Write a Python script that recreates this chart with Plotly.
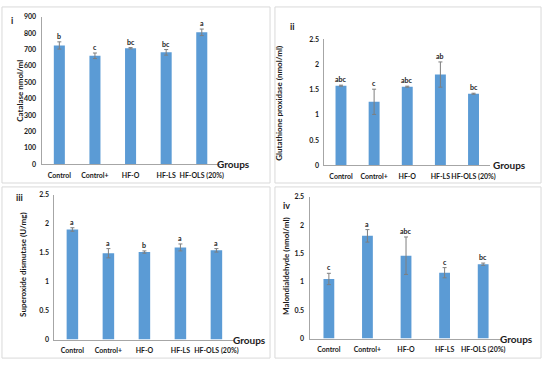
import plotly.graph_objects as go

W, H = 550, 365

categories = ["Control", "Control+", "HF-O", "HF-LS", "HF-OLS (20%)"]

catalase = [725, 662, 708, 683, 805]
catalase_err = [22, 17, 4, 17, 20]
catalase_letters = ["b", "c", "bc", "bc", "a"]

gpx = [1.58, 1.26, 1.56, 1.80, 1.42]
gpx_err = [0.01, 0.25, 0.01, 0.25, 0.01]
gpx_letters = ["abc", "c", "abc", "ab", "bc"]

sod = [1.90, 1.49, 1.51, 1.59, 1.54]
sod_err = [0.03, 0.08, 0.02, 0.06, 0.03]
sod_letters = ["a", "a", "b", "a", "a"]

mda = [1.05, 1.81, 1.46, 1.16, 1.31]
mda_err = [0.10, 0.11, 0.33, 0.09, 0.02]
mda_letters = ["c", "a", "abc", "c", "bc"]

titles = ["Catalase nmol/ml", "Glutathione proxidase (nmol/ml)",
          "Superoxide dismutase (U/mg)", "Malondialdehyde (nmol/ml)"]
panel_labels = ["i", "ii", "iii", "iv"]

FONT = "Lato"
BAR = "#5B9BD5"
GRID = "#A6A6A6"
TXT = "#1a1a1a"

def px_x(x):
    return x / W

def px_y(y):
    return 1 - y / H

panels = [
    dict(vals=catalase, err=catalase_err, let=catalase_letters, x0=42, x1=222, yt=12, yb=163, ymax=900, dtick=100, bw=0.31,
         box=(2, 2, 273, 182), lab=(12, 16), ttl=(20, 88), grp=(236, 163)),
    dict(vals=gpx, err=gpx_err, let=gpx_letters, x0=328, x1=495.5, yt=35, yb=164, ymax=2.5, dtick=0.5, bw=0.33,
         box=(278, 2, 547, 182), lab=(296, 22), ttl=(282, 100), grp=(515, 164)),
    dict(vals=sod, err=sod_err, let=sod_letters, x0=55, x1=237, yt=194, yb=342, ymax=2.5, dtick=0.5, bw=0.32,
         box=(2, 186, 273, 361), lab=(20, 197), ttl=(23, 265), grp=(252, 342)),
    dict(vals=mda, err=mda_err, let=mda_letters, x0=313, x1=508, yt=196, yb=341, ymax=2.5, dtick=0.5, bw=0.28,
         box=(278, 186, 547, 361), lab=(290, 205), ttl=(289, 267), grp=(522, 341)),
]

fig = go.Figure()
shapes = []
annotations = []

for i, p in enumerate(panels):
    n = "" if i == 0 else str(i + 1)
    xa = "x" + n
    ya = "y" + n
    fig.add_trace(go.Bar(
        x=categories, y=p["vals"], xaxis=xa, yaxis=ya,
        marker=dict(color=BAR, line=dict(width=0)),
        width=p["bw"],
        error_y=dict(type="data", array=p["err"], color="#7F7F7F", thickness=1, width=2),
        showlegend=False, hoverinfo="skip",
    ))
    for c, v, e, l in zip(categories, p["vals"], p["err"], p["let"]):
        annotations.append(dict(x=c, y=v + e, xref=xa, yref=ya, text=l, showarrow=False,
                                yanchor="bottom", yshift=0,
                                font=dict(family=FONT, size=7, color=TXT, weight=700)))
    fig.layout["xaxis" + n] = dict(
        domain=[px_x(p["x0"]), px_x(p["x1"])], anchor=ya, type="category",
        range=[-0.5, 4.5], showline=True, linecolor=GRID, linewidth=1,
        ticks="outside", ticklen=4, tickcolor="rgba(0,0,0,0)",
        tickfont=dict(family=FONT, size=7, color=TXT, weight=700),
        showgrid=False, zeroline=False, fixedrange=True, tickangle=0,
    )
    fig.layout["yaxis" + n] = dict(
        domain=[px_y(p["yb"]), px_y(p["yt"])], anchor=xa,
        range=[0, p["ymax"]], dtick=p["dtick"], tick0=0,
        showline=True, linecolor=GRID, linewidth=1,
        ticks="outside", ticklen=3, tickcolor="rgba(0,0,0,0)",
        tickfont=dict(family=FONT, size=7, color=TXT, weight=700),
        showgrid=False, zeroline=False, fixedrange=True,
    )
    bx0, by0, bx1, by1 = p["box"]
    shapes.append(dict(type="rect", xref="paper", yref="paper",
                       x0=px_x(bx0), x1=px_x(bx1), y0=px_y(by1), y1=px_y(by0),
                       line=dict(color="#D9D9D9", width=1), fillcolor="rgba(0,0,0,0)"))
    annotations.append(dict(x=px_x(p["lab"][0]), y=px_y(p["lab"][1]), xref="paper", yref="paper",
                            text=panel_labels[i], showarrow=False, xanchor="center", yanchor="middle",
                            font=dict(family=FONT, size=9, color=TXT, weight=700)))
    annotations.append(dict(x=px_x(p["ttl"][0]), y=px_y(p["ttl"][1]), xref="paper", yref="paper",
                            text=titles[i], showarrow=False, textangle=-90, xanchor="center", yanchor="middle",
                            font=dict(family=FONT, size=8, color=TXT, weight=700)))
    annotations.append(dict(x=px_x(p["grp"][0]), y=px_y(p["grp"][1]), xref="paper", yref="paper",
                            text="Groups", showarrow=False, xanchor="center", yanchor="middle",
                            font=dict(family=FONT, size=10, color=TXT, weight=700)))

fig.update_layout(
    width=W, height=H, margin=dict(l=0, r=0, t=0, b=0),
    paper_bgcolor="white", plot_bgcolor="white",
    shapes=shapes, annotations=annotations, bargap=0.6,
)

fig.write_html("out.html", config={"displayModeBar": False, "staticPlot": True},
               post_script="document.body.style.margin='0';document.body.style.overflow='hidden';")
